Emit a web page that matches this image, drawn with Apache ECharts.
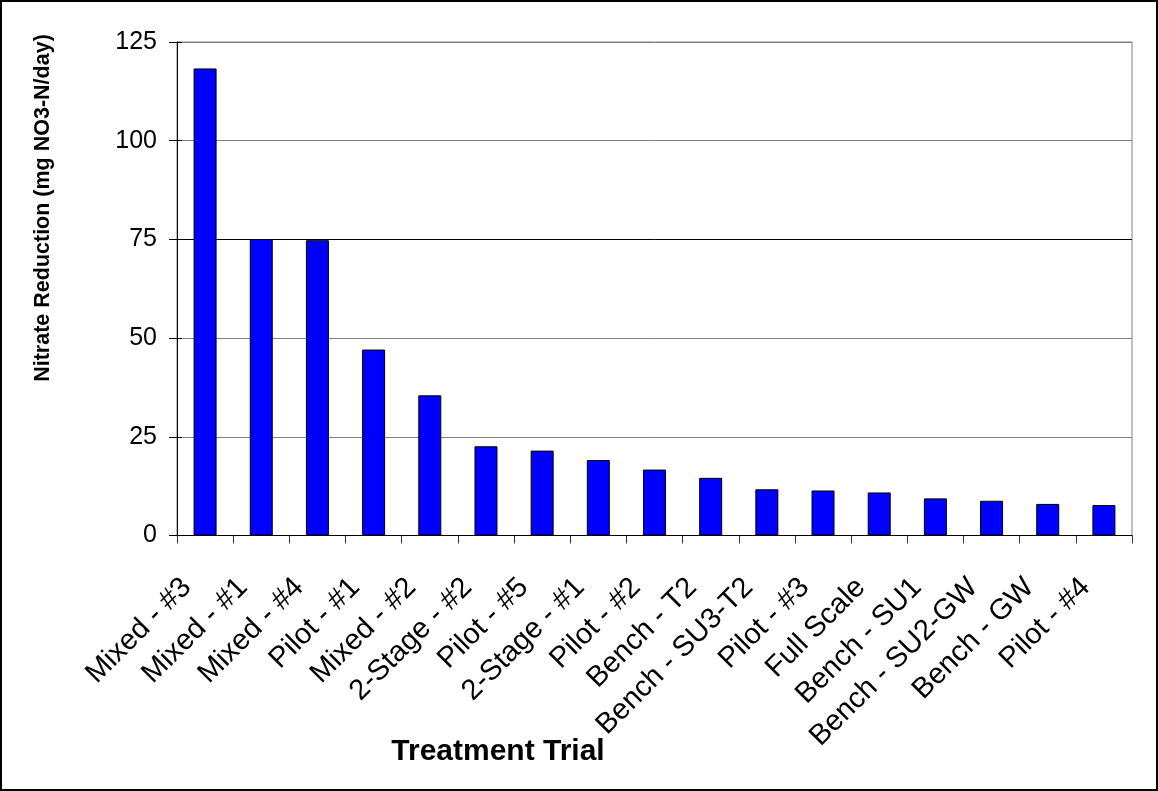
<!DOCTYPE html>
<html>
<head>
<meta charset="utf-8">
<script src="https://cdn.jsdelivr.net/npm/echarts@6/dist/echarts.min.js"></script>
<style>
  html, body { margin: 0; padding: 0; background: #fff; }
  #chart { width: 1158px; height: 791px; }
</style>
</head>
<body>
<div id="chart"></div>
<script>
// Treatment trials, ordered by nitrate reduction rate
const categories = [
  'Mixed - #3', 'Mixed - #1', 'Mixed - #4', 'Pilot - #1', 'Mixed - #2',
  '2-Stage - #2', 'Pilot - #5', '2-Stage - #1', 'Pilot - #2', 'Bench - T2',
  'Bench - SU3-T2', 'Pilot - #3', 'Full Scale', 'Bench - SU1',
  'Bench - SU2-GW', 'Bench - GW', 'Pilot - #4'
];
// mg NO3-N per day
const reduction = [
  118.3, 75.1, 74.8, 47.1, 35.5,
  22.6, 21.5, 19.1, 16.7, 14.6,
  11.7, 11.4, 10.9, 9.4,
  8.8, 8.0, 7.7
];
const yTicks = [0, 25, 50, 75, 100, 125];

const FONT = 'Arial, "Liberation Sans", sans-serif';

const chart = echarts.init(document.getElementById('chart'), null, { renderer: 'canvas' });

chart.setOption({
  animation: false,
  backgroundColor: '#ffffff',
  grid: {
    left: 177, top: 42, width: 955, height: 493.5,
    show: true, borderColor: '#808080', borderWidth: 1, backgroundColor: 'transparent'
  },
  xAxis: {
    type: 'category',
    data: categories,
    axisLine: { lineStyle: { color: '#000', width: 1 } },
    axisTick: { show: true, alignWithLabel: false, length: 8, lineStyle: { color: '#333' } },
    axisLabel: {
      interval: 0, rotate: 45, margin: 29,
      fontFamily: FONT, fontSize: 29, color: '#000',
      padding: [0, 26, 0, 0]
    },
    splitLine: { show: false }
  },
  yAxis: [{
    type: 'value',
    min: yTicks[0], max: yTicks[yTicks.length - 1], interval: 25,
    axisLine: { show: true, lineStyle: { color: '#000', width: 1 } },
    axisTick: { show: true, length: 8, lineStyle: { color: '#000' } },
    axisLabel: { margin: 20, fontFamily: FONT, fontSize: 25, color: '#000' },
    splitLine: {
      show: true,
      lineStyle: { color: ['#808080', '#808080', '#808080', '#000000', '#808080', '#808080'], width: 1 }
    }
  }, {
    // inner half of the crossing tick marks
    type: 'value', position: 'left',
    min: yTicks[0], max: yTicks[yTicks.length - 1], interval: 25,
    axisLine: { show: false },
    axisTick: { show: true, inside: true, length: 5, lineStyle: { color: '#000' } },
    axisLabel: { show: false },
    splitLine: { show: false }
  }],
  series: [{
    type: 'bar',
    data: reduction,
    barWidth: 23,
    itemStyle: { color: '#0000ff', borderColor: '#000', borderWidth: 1 }
  }],
  graphic: [
    {
      type: 'rect', silent: true, z: 100,
      shape: { x: 1, y: 1, width: 1156, height: 789 },
      style: { fill: 'none', stroke: '#000', lineWidth: 2 }
    },
    {
      type: 'text', silent: true,
      x: 498, y: 752,
      style: {
        text: 'Treatment Trial', fontFamily: FONT, fontWeight: 'bold', fontSize: 30,
        fill: '#000', align: 'center', verticalAlign: 'middle'
      }
    },
    {
      type: 'text', silent: true,
      x: 43, y: 208, rotation: Math.PI / 2,
      style: {
        text: 'Nitrate Reduction (mg NO3-N/day)', fontFamily: FONT, fontWeight: 'bold', fontSize: 21.5,
        fill: '#000', align: 'center', verticalAlign: 'middle'
      }
    }
  ]
});
</script>
</body>
</html>
